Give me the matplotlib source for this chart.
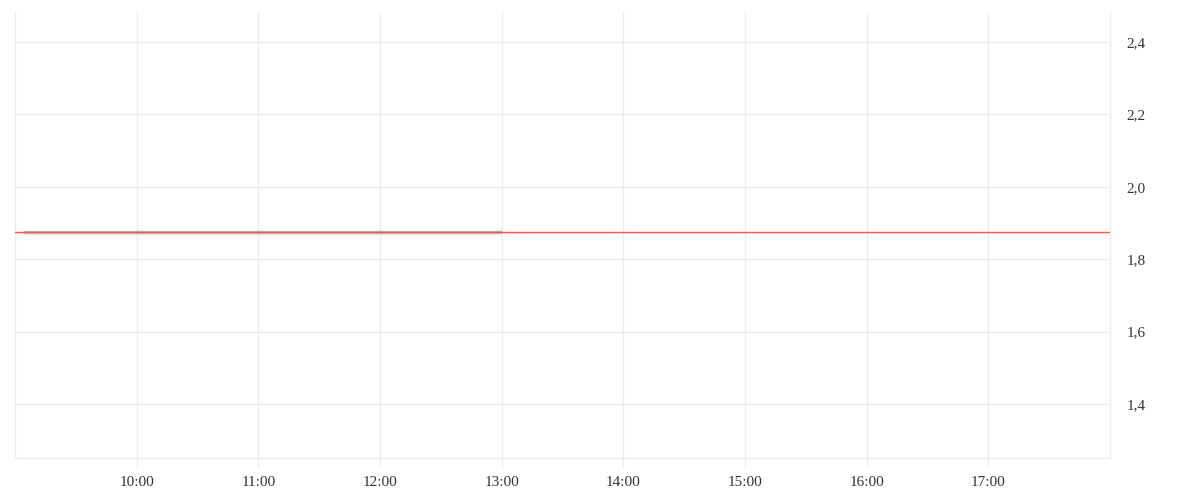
import matplotlib
matplotlib.use("Agg")
import matplotlib.pyplot as plt
from matplotlib.ticker import FixedLocator, FuncFormatter

# Data
price_times = ["09:04", "10:00", "11:00", "12:00", "13:00"]
price_values = [1.875, 1.875, 1.875, 1.875, 1.875]
reference_price = 1.875
x_tick_labels = ["10:00", "11:00", "12:00", "13:00", "14:00", "15:00", "16:00", "17:00"]
y_ticks = [1.4, 1.6, 1.8, 2.0, 2.2, 2.4]

def to_hours(s):
    h, m = s.split(":")
    return int(h) + int(m) / 60.0

plt.rcParams['font.family'] = ['Liberation Serif', 'DejaVu Serif']

fig = plt.figure(figsize=(12, 5), dpi=100)
ax = fig.add_axes([15 / 1200, 1 - 458 / 500, 1095 / 1200, 446 / 500])

xs = [to_hours(t) for t in price_times]
ax.plot(xs, price_values, color="#8fd19e", linewidth=2.4, solid_capstyle="butt", zorder=3)
ax.axhline(reference_price, color="#f05a5a", linewidth=1.0, zorder=4)

ax.set_xlim(9.0, 18.0)
ax.set_ylim(1.251, 2.483)

xt = [to_hours(t) for t in x_tick_labels]
ax.xaxis.set_major_locator(FixedLocator(xt))
ax.set_xticklabels(x_tick_labels)
ax.yaxis.set_major_locator(FixedLocator(y_ticks))
ax.yaxis.set_major_formatter(FuncFormatter(lambda v, p: f"{v:.1f}".replace(".", ",")))

ax.yaxis.tick_right()
ax.grid(True, color="#ececec", linewidth=1.0, zorder=0)
ax.spines["top"].set_visible(False)
for side in ["left", "right", "bottom"]:
    ax.spines[side].set_color("#ececec")
    ax.spines[side].set_linewidth(1.0)

ax.tick_params(axis="x", length=7.2, color="#ececec", labelsize=11, labelcolor="#333333", pad=6)
ax.tick_params(axis="y", length=0, labelsize=11, labelcolor="#333333", pad=12)

fig.savefig("out.png", dpi=100)
